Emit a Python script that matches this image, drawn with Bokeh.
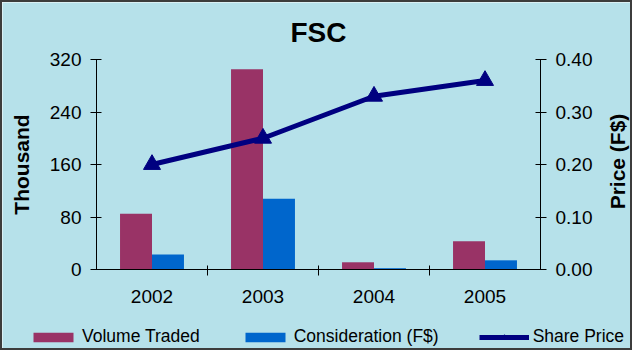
import math
from bokeh.plotting import figure
from bokeh.models import (ColumnDataSource, Range1d, LinearAxis, FixedTicker,
                          NumeralTickFormatter, Legend, LegendItem, Label)
from bokeh.transform import dodge
from bokeh.embed import file_html
from bokeh.resources import INLINE

years = ["2002", "2003", "2004", "2005"]
volume_traded = [85, 305, 11, 43]          # thousand
consideration = [23, 108, 2, 14]           # thousand F$
share_price = [0.20, 0.25, 0.33, 0.36]     # F$
left_ticks = [0, 80, 160, 240, 320]
right_ticks = [0.0, 0.1, 0.2, 0.3, 0.4]
series_names = ["Volume Traded", "Consideration (F$)", "Share Price"]
chart_title = "FSC"
left_title = "Thousand"
right_title = "Price (F$)"

FONT = "Liberation Sans"
BG = "#b6e1ea"
C_VOL, C_CON, C_PRICE = "#993366", "#0066CC", "#000080"

# canvas and plot-area geometry (pixels)
W, H = 632, 350
PL, PR, PT, PB = 94, 538, 57, 267      # plot area inside the canvas
n = len(years)
ppx = (PR - PL) / n
y_max, p_max = left_ticks[-1], right_ticks[-1]
ppy = (PB - PT) / y_max
ppp = (PB - PT) / p_max

pos = [i + 0.5 for i in range(n)]
src = ColumnDataSource(dict(x=pos, year=years, vol=volume_traded,
                            con=consideration, price=share_price))

p = figure(width=W, height=H, output_backend="svg", toolbar_location=None,
           x_axis_type=None, y_axis_type=None,
           x_range=Range1d(-PL / ppx, n + (W - PR) / ppx),
           y_range=Range1d(-(H - PB) / ppy, y_max + PT / ppy),
           min_border=0, min_border_left=0, min_border_right=0,
           min_border_top=0, min_border_bottom=0)
p.styles = {"border": "2px solid #3c3c3c"}
p.background_fill_color = BG
p.border_fill_color = BG
p.outline_line_color = None
p.title.visible = False
p.extra_y_ranges = {"price": Range1d(-(H - PB) / ppp, p_max + PT / ppp)}

bw = 0.288
r_vol = p.vbar(x=dodge("x", -bw / 2, range=p.x_range), top="vol", width=bw,
               source=src, fill_color=C_VOL, line_color=None)
r_con = p.vbar(x=dodge("x", bw / 2, range=p.x_range), top="con", width=bw,
               source=src, fill_color=C_CON, line_color=None)
r_line = p.line(x="x", y="price", source=src, y_range_name="price",
                line_color=C_PRICE, line_width=5)
r_mark = p.scatter(x="x", y="price", source=src, y_range_name="price",
                   marker="triangle", size=17, fill_color=C_PRICE,
                   line_color=C_PRICE)

# x axis: labels at category centres, ticks at category boundaries
xa = LinearAxis(fixed_location=0, bounds=(0, n),
                ticker=FixedTicker(ticks=pos, minor_ticks=list(range(1, n))))
xa.major_label_overrides = {x: y for x, y in zip(pos, years)}
xa.major_tick_in = 0
xa.major_tick_out = 0
xa.minor_tick_in = 4
xa.minor_tick_out = 6
xa.minor_tick_line_color = "black"
xa.axis_line_color = "black"
xa.major_label_text_font = FONT
xa.major_label_text_font_size = "19px"
xa.major_label_text_color = "black"
xa.major_label_standoff = 14
p.add_layout(xa, "below")

ya = LinearAxis(fixed_location=0, bounds=(0, y_max),
                ticker=FixedTicker(ticks=left_ticks, minor_ticks=[]))
ya.major_tick_in = 5
ya.major_tick_out = 6
ya.major_tick_line_color = "black"
ya.axis_line_color = "black"
ya.major_label_text_font = FONT
ya.major_label_text_font_size = "19px"
ya.major_label_text_color = "black"
ya.major_label_standoff = 9
ya.axis_label = left_title
ya.axis_label_text_font = FONT
ya.axis_label_text_font_size = "21px"
ya.axis_label_text_font_style = "bold"
ya.axis_label_text_color = "black"
ya.axis_label_standoff = 14
p.add_layout(ya, "left")

ra = LinearAxis(y_range_name="price", fixed_location=n, bounds=(0, p_max),
                ticker=FixedTicker(ticks=right_ticks, minor_ticks=[]),
                formatter=NumeralTickFormatter(format="0.00"))
ra.major_tick_in = 5
ra.major_tick_out = 6
ra.major_tick_line_color = "black"
ra.axis_line_color = "black"
ra.major_label_text_font = FONT
ra.major_label_text_font_size = "19px"
ra.major_label_text_color = "black"
ra.major_label_standoff = 9
p.add_layout(ra, "right")

# right axis title, reading bottom-to-top like the reference
p.add_layout(Label(x=n + (615 - PR) / ppx, y=p_max / 2 + 3 / ppp,
                   y_range_name="price", text=right_title, angle=math.pi / 2,
                   text_align="center", text_baseline="middle",
                   text_font=FONT, text_font_size="21px",
                   text_font_style="bold", text_color="black"))

p.add_layout(Label(x=n / 2, y=y_max + (PT - 30) / ppy, text=chart_title,
                   text_align="center", text_baseline="middle",
                   text_font=FONT, text_font_size="28px",
                   text_font_style="bold", text_color="black"))

legend = Legend(items=[
    LegendItem(label=series_names[0], renderers=[r_vol]),
    LegendItem(label=series_names[1], renderers=[r_con]),
    LegendItem(label=series_names[2], renderers=[r_line, r_mark]),
], orientation="horizontal", location=(26, 5))
legend.background_fill_alpha = 0
legend.border_line_color = None
legend.padding = 0
legend.margin = 0
legend.spacing = 40
legend.glyph_width = 50
legend.glyph_height = 12
legend.label_standoff = 4
legend.label_text_font = FONT
legend.label_text_font_size = "17.5px"
legend.label_text_color = "black"
p.add_layout(legend, "center")

open("out.html", "w").write(file_html(p, INLINE))
